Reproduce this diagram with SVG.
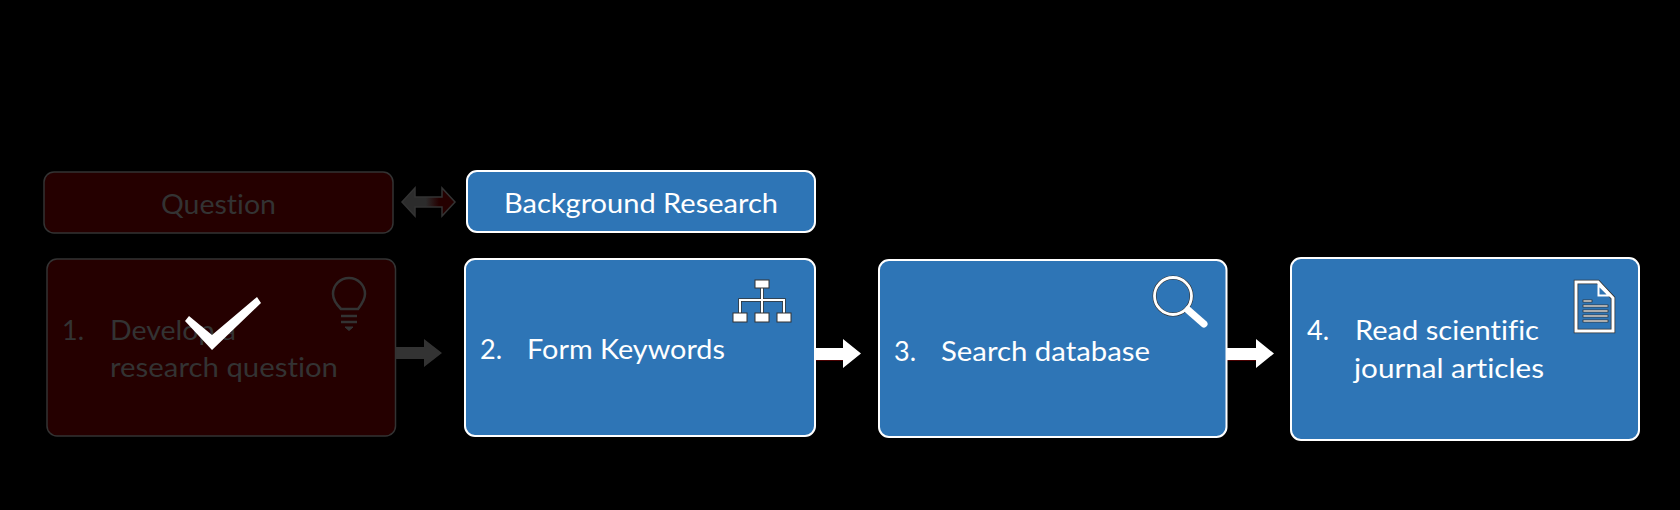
<svg xmlns="http://www.w3.org/2000/svg" width="1680" height="510" viewBox="0 0 1680 510">
<style>
text{font-family:"Lato","Noto Sans",sans-serif;font-size:27px;font-variant-ligatures:none}
.on{fill:#2e75b6;stroke:#fff;stroke-width:2}
.off{fill:#250000;stroke:#333;stroke-width:1.500}
.tw{fill:#fff}
.td{fill:#333}
.ml{fill:none;stroke:#fff;stroke-width:2}
.hl{fill:none;stroke:#333;stroke-width:3.500}
.bx{fill:#fff;stroke:#333;stroke-width:1}
.bar{fill:#fff;stroke:#333;stroke-width:.8}
</style>
<defs>
<linearGradient id="dbl" x1="0" x2="1" y1="0" y2="0">
<stop offset="0" stop-color="#2c2c2c"/>
<stop offset="0.45" stop-color="#2c2c2c"/>
<stop offset="0.7" stop-color="#250000"/>
<stop offset="1" stop-color="#250000"/>
</linearGradient>
</defs>
<rect width="1680" height="510" fill="#000"/>

<g id="connectors">
<path d="M396 347H424V339L442 353L424 367V359H396Z" fill="#333"/>
<rect x="815" y="360" width="28" height="1" fill="#4a0000"/>
<path d="M815 348H843V339L861 353.500L843 368V360H815Z" fill="#fff"/>
<rect x="1227" y="360" width="29" height="1" fill="#4a0000"/>
<path d="M1227 348H1256V339L1274 353.500L1256 368V360H1227Z" fill="#fff"/>
<path d="M402 202L415 188V197H442V188L455 202L442 216V207H415V216Z" fill="url(#dbl)" stroke="#333" stroke-width="1.500"/>
</g>

<g id="node-question">
<rect class="off" x="44" y="172" width="349" height="61" rx="10"/>
<text class="td" x="161" y="214" textLength="115" lengthAdjust="spacingAndGlyphs">Question</text>
</g>

<g id="node-background">
<rect class="on" x="467" y="171" width="348" height="61" rx="10"/>
<text class="tw" x="504" y="213" textLength="274" lengthAdjust="spacingAndGlyphs">Background Research</text>
</g>

<g id="node-1">
<rect class="off" x="47" y="259" width="348.500" height="177" rx="10"/>
<text class="td" x="62" y="340">1.</text>
<text class="td" x="110" y="340" textLength="126" lengthAdjust="spacingAndGlyphs">Develop a</text>
<text class="td" x="110" y="377" textLength="228" lengthAdjust="spacingAndGlyphs">research question</text>
<g id="icon-bulb" fill="none" stroke="#333" stroke-width="2.500">
<path d="M341 309C337 305 333 300 333 294A16 16 0 0 1 365 294C365 300 361 305 358 309Z"/>
<path d="M341 316H357M341 322H357"/>
<path d="M345 327H353L349 330.500Z" fill="#333" stroke-width="1"/>
</g>
<polygon points="189,316 212,335 257,297 261,303 212,350 185,321" fill="#fff"/>
</g>

<g id="node-2">
<rect class="on" x="465" y="259" width="350" height="177" rx="10"/>
<text class="tw" x="480" y="359">2.</text>
<text class="tw" x="527" y="359" textLength="198" lengthAdjust="spacingAndGlyphs">Form Keywords</text>
<g id="icon-org">
<path d="M762 288V313M740 313V300H784V313" class="hl"/>
<path d="M762 288V313M740 313V300H784V313" class="ml"/>
<rect class="bx" x="755" y="280" width="14" height="8"/>
<rect class="bx" x="733" y="313" width="14" height="9"/>
<rect class="bx" x="755" y="313" width="14" height="9"/>
<rect class="bx" x="777" y="313" width="14" height="9"/>
</g>
</g>

<g id="node-3">
<rect class="on" x="879" y="260" width="347.500" height="177" rx="10"/>
<text class="tw" x="894" y="361">3.</text>
<text class="tw" x="941" y="361" textLength="209" lengthAdjust="spacingAndGlyphs">Search database</text>
<g id="icon-search" fill="none">
<circle cx="1173" cy="296" r="18.500" stroke="#333" stroke-width="4"/>
<circle cx="1173" cy="296" r="18.500" stroke="#fff" stroke-width="2.800"/>
<path d="M1188 310L1204 324" stroke="#fff" stroke-width="7" stroke-linecap="round"/>
</g>
</g>

<g id="node-4">
<rect class="on" x="1291" y="258" width="348" height="182" rx="10"/>
<text class="tw" x="1307" y="340">4.</text>
<text class="tw" x="1355" y="340" textLength="184" lengthAdjust="spacingAndGlyphs">Read scientific</text>
<text class="tw" x="1354" y="378" textLength="190" lengthAdjust="spacingAndGlyphs">journal articles</text>
<g id="icon-doc">
<path d="M1576 282H1598L1613 298V331H1576Z" fill="none" stroke="#333" stroke-width="4.500"/>
<path d="M1576 282H1598L1613 298V331H1576Z" fill="none" stroke="#fff" stroke-width="3"/>
<path d="M1598.500 285V295.500H1609Z" fill="none" stroke="#fff" stroke-width="2"/>
<rect class="bar" x="1583" y="300" width="9" height="2"/>
<rect class="bar" x="1583" y="305" width="25" height="2"/>
<rect class="bar" x="1583" y="310" width="25" height="2"/>
<rect class="bar" x="1583" y="315" width="25" height="2"/>
<rect class="bar" x="1583" y="320" width="25" height="2"/>
</g>
</g>
</svg>
